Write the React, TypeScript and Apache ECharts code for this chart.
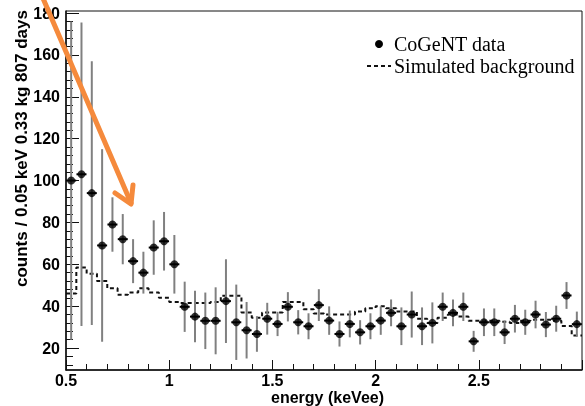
import React, { useEffect, useRef } from "react";
import * as echarts from "echarts";

// Bin centres (keVee), 0.05 keV bins
const energies = [
  0.525, 0.575, 0.625, 0.675, 0.725, 0.775, 0.825, 0.875, 0.925, 0.975,
  1.025, 1.075, 1.125, 1.175, 1.225, 1.275, 1.325, 1.375, 1.425, 1.475,
  1.525, 1.575, 1.625, 1.675, 1.725, 1.775, 1.825, 1.875, 1.925, 1.975,
  2.025, 2.075, 2.125, 2.175, 2.225, 2.275, 2.325, 2.375, 2.425, 2.475,
  2.525, 2.575, 2.625, 2.675, 2.725, 2.775, 2.825, 2.875, 2.925, 2.975,
];

// CoGeNT data (counts per bin)
const counts = [
  100, 103, 94, 69, 79, 72, 61.5, 56, 68, 71,
  60, 39.7, 35, 33, 33, 42.4, 32.3, 28.5, 26.7, 34,
  31.5, 39.7, 32.3, 30.4, 40.5, 33.1, 26.7, 31.5, 27.5, 30.4,
  33.1, 36.8, 30.4, 36, 30.4, 32, 39.7, 36.8, 39.7, 23.2,
  32.3, 32.3, 27.5, 34, 32.3, 36, 31.2, 34, 45.1, 31.4,
];

// symmetric statistical errors
const errors = [
  76, 72.5, 63, 46, 13, 12, 10.5, 10, 13, 14,
  14, 12, 12.3, 13.5, 16, 20, 18, 13.5, 8.5, 7.6,
  5.8, 7, 5.8, 6.2, 7.6, 6.8, 6, 6.4, 5.8, 6.2,
  6.8, 6.4, 9, 11, 9, 9.8, 6.8, 6.4, 6.8, 5,
  6.6, 6.6, 5.6, 6.6, 6, 6.6, 6, 6.2, 6.4, 6,
];

// Simulated background (per bin)
const background = [
  46, 58.5, 55.5, 52, 48.5, 45.5, 46.5, 48.5, 46.5, 44,
  42, 41.5, 41.5, 41.5, 42, 45, 45, 37, 34.5, 37,
  37, 42, 42, 38.5, 36.5, 36, 36, 36, 37.5, 39,
  40, 39, 37.5, 37.5, 34, 32, 34.5, 36, 35, 33,
  33, 33, 32.5, 32, 33, 33.5, 33.5, 33, 30.5, 26,
];

const binWidth = 0.05;
const xTickLabels = ["0.5", "1", "1.5", "2", "2.5"];
const yMajorTicks = [20, 40, 60, 80, 100, 120, 140, 160, 180];
const yMinorTicks = [
  12, 16, 24, 28, 32, 36, 44, 48, 52, 56, 64, 68, 72, 76, 84, 88, 92, 96,
  104, 108, 112, 116, 124, 128, 132, 136, 144, 148, 152, 156, 164, 168, 172, 176,
];

const SANS = '"Liberation Sans", Arial, Helvetica, sans-serif';
const SERIF = '"Liberation Serif", "Times New Roman", serif';

export default function App() {
  const ref = useRef<HTMLDivElement>(null);

  useEffect(() => {
    if (!ref.current) return;
    const chart = echarts.init(ref.current, null, { renderer: "svg" });

    const bgData: number[][] = background.map((v, i) => [
      energies[i] - binWidth / 2,
      v,
    ]);
    bgData.push([
      energies[energies.length - 1] + binWidth / 2,
      background[background.length - 1],
    ]);

    const pts = energies.map((e, i) => [e, counts[i], errors[i]]);

    const orange = "#f58a3c";

    chart.setOption({
      animation: false,
      grid: {
        left: 66,
        top: 11,
        right: -6,
        bottom: 36,
        show: true,
        borderColor: "#111",
        borderWidth: 1,
        backgroundColor: "transparent",
      },
      xAxis: {
        type: "value",
        min: 0.5,
        max: 3.0,
        interval: 0.5,
        axisLine: { show: true, onZero: false, lineStyle: { color: "#111", width: 1.5 } },
        axisTick: { show: true, inside: true, length: 10, lineStyle: { color: "#111" } },
        minorTick: { show: true, splitNumber: 5, length: 6, lineStyle: { color: "#111" } },
        splitLine: { show: false },
        axisLabel: {
          color: "#000",
          fontFamily: SANS,
          fontWeight: "bold",
          fontSize: 16,
          margin: 2,
          formatter: (v: number) => {
            const s = xTickLabels.find((t) => Math.abs(parseFloat(t) - v) < 1e-6);
            return s ?? "";
          },
        },
      },
      yAxis: [
        {
          type: "value",
          min: 9.5,
          max: 181,
          axisLine: { show: true, onZero: false, lineStyle: { color: "#111", width: 1.5 } },
          axisTick: {
            show: true,
            inside: true,
            length: 13,
            customValues: yMajorTicks,
            lineStyle: { color: "#111" },
          },
          splitLine: { show: false },
          axisLabel: {
            color: "#000",
            fontFamily: SANS,
            fontWeight: "bold",
            fontSize: 16,
            margin: 6,
            customValues: yMajorTicks,
          },
        },
        {
          type: "value",
          min: 9.5,
          max: 181,
          position: "left",
          axisLine: { show: false },
          axisTick: {
            show: true,
            inside: true,
            length: 7,
            customValues: yMinorTicks,
            lineStyle: { color: "#111" },
          },
          splitLine: { show: false },
          axisLabel: { show: false },
        },
      ],
      series: [
        {
          type: "line",
          data: bgData,
          step: "end",
          symbol: "none",
          lineStyle: { color: "#111", width: 2, type: [4, 3] },
          z: 2,
        },
        {
          type: "custom",
          data: pts,
          clip: true,
          renderItem: (params: any, api: any) => {
            const x = api.value(0);
            const y = api.value(1);
            const e = api.value(2);
            const top = api.coord([x, y + e]);
            const bot = api.coord([x, y - e]);
            const c = api.coord([x, y]);
            return {
              type: "group",
              children: [
                {
                  type: "line",
                  shape: { x1: top[0], y1: top[1], x2: bot[0], y2: bot[1] },
                  style: { stroke: "#808080", lineWidth: 2 },
                },
                {
                  type: "line",
                  shape: { x1: c[0] - 5, y1: c[1], x2: c[0] + 5, y2: c[1] },
                  style: { stroke: "#000", lineWidth: 2 },
                },
              ],
            };
          },
          z: 3,
        },
        {
          type: "scatter",
          data: pts.map((p) => [p[0], p[1]]),
          symbol: "circle",
          symbolSize: 8,
          itemStyle: { color: "#000" },
          z: 4,
        },
      ],
      graphic: [
        {
          type: "text",
          x: 21,
          y: 287,
          rotation: Math.PI / 2,
          style: {
            text: "counts / 0.05 keV 0.33 kg 807 days",
            fontFamily: SANS,
            fontWeight: "bold",
            fontSize: 17,
            fill: "#000",
            textAlign: "left",
            textVerticalAlign: "middle",
          },
        },
        {
          type: "text",
          x: 384,
          y: 397,
          style: {
            text: "energy (keVee)",
            fontFamily: SANS,
            fontWeight: "bold",
            fontSize: 16,
            fill: "#000",
            textAlign: "right",
            textVerticalAlign: "middle",
          },
        },
        // legend
        {
          type: "circle",
          shape: { cx: 379, cy: 44, r: 4 },
          style: { fill: "#000" },
        },
        {
          type: "text",
          x: 394,
          y: 44,
          style: {
            text: "CoGeNT data",
            fontFamily: SERIF,
            fontSize: 20,
            fill: "#000",
            textAlign: "left",
            textVerticalAlign: "middle",
          },
        },
        {
          type: "line",
          shape: { x1: 367, y1: 66, x2: 391, y2: 66 },
          style: { stroke: "#111", lineWidth: 2, lineDash: [4, 3] },
        },
        {
          type: "text",
          x: 394,
          y: 66,
          style: {
            text: "Simulated background",
            fontFamily: SERIF,
            fontSize: 20,
            fill: "#000",
            textAlign: "left",
            textVerticalAlign: "middle",
          },
        },
        // orange annotation arrow
        {
          type: "line",
          z: 100,
          shape: { x1: 42, y1: -4, x2: 131, y2: 203 },
          style: { stroke: orange, lineWidth: 5, lineCap: "round" },
        },
        {
          type: "polyline",
          z: 100,
          shape: { points: [[115, 193], [131, 204], [133, 185]] },
          style: { stroke: orange, lineWidth: 5, lineCap: "round", lineJoin: "round", fill: "none" },
        },
      ],
    });

    return () => chart.dispose();
  }, []);

  return (
    <div
      ref={ref}
      style={{ position: "fixed", left: 0, top: 0, width: 585, height: 406 }}
    />
  );
}
